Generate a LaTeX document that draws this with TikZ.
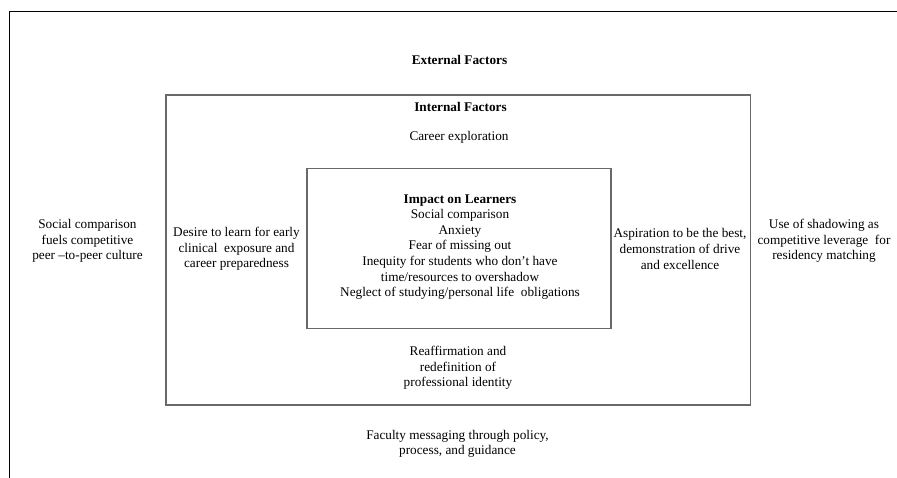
\documentclass[tikz,border=0pt]{standalone}
\usepackage{fontspec}
\setmainfont{Liberation Serif}
\definecolor{boxgray}{RGB}{105,105,105}

\begin{document}
\begin{tikzpicture}[x=1pt,y=-1pt,
    every node/.style={font=\fontsize{13.25}{15.6}\selectfont,align=center,inner sep=0},
    factorbox/.style={draw=boxgray,line width=1.5pt}]

    % Page
    \useasboundingbox (0,0) rectangle (897,478);
    \clip (0,0) rectangle (897,478);

    % External factors (frame runs off the page)
    \draw[line width=1pt] (9.5,11.5) rectangle (930,510);
    \node (ext) at (459.5,60) {\textbf{External Factors}};
    \node (peer) at (87.5,241) {Social comparison\\ fuels competitive\\ peer –to-peer culture};
    \node (lever) at (824,241) {Use of shadowing as\\ competitive leverage~ for\\ residency matching};
    \node (faculty) at (457.5,444) {Faculty messaging through policy,\\ process, and guidance};

    % Internal factors
    \draw[factorbox] (166,95) rectangle (750.5,405);
    \node (int) at (460.5,107) {\textbf{Internal Factors}};
    \node (career) at (459,137) {Career exploration};
    \node (desire) at (236.5,249) {Desire to learn for early\\ clinical~ exposure and\\ career preparedness};
    \node (aspire) at (680,249) {Aspiration to be the best,\\ demonstration of drive\\ and excellence};
    \node (ident) at (458,368) {Reaffirmation and\\ redefinition of\\ professional identity};

    % Impact on learners
    \draw[factorbox] (307,168.5) rectangle (611,328.5);
    \node (impact) at (460,247) {\textbf{Impact on Learners}\\ Social comparison\\ Anxiety\\ Fear of missing out\\
        Inequity for students who don’t have\\ time/resources to overshadow\\ Neglect of studying/personal life~ obligations};

\end{tikzpicture}
\end{document}
